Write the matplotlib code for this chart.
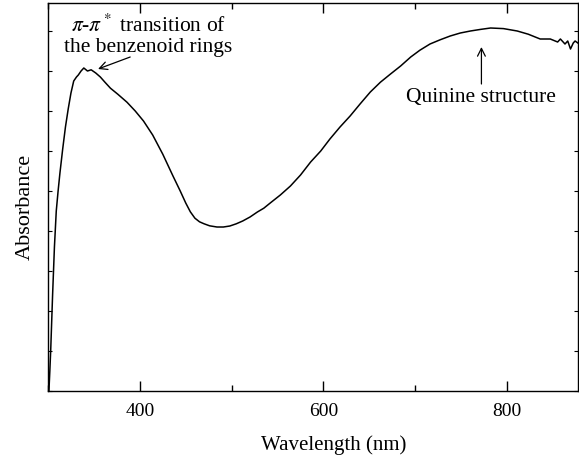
import numpy as np
import matplotlib.pyplot as plt
from matplotlib.ticker import MultipleLocator, NullFormatter

# UV-vis spectrum (arbitrary absorbance units)
wavelength = [300, 301, 302, 303, 305, 307, 309, 311, 313, 316, 319, 322,
              325, 328, 331, 333, 336, 339, 343, 347, 352, 357, 362, 368,
              376, 386, 395, 404, 414, 425, 436, 444, 450, 455, 460, 465,
              470, 476, 484, 491, 498, 505, 512, 520, 528, 535, 542, 553,
              564, 575, 586, 597, 607, 618, 629, 640, 651, 662, 673, 684,
              695, 705, 716, 727, 738, 749, 760, 771, 782, 796, 811, 823,
              836, 847, 855, 858, 863, 866, 869, 872, 874, 877]
absorb = [0.0, 0.0, 0.05, 0.105, 0.24, 0.36, 0.45, 0.50, 0.545, 0.605,
          0.66, 0.705, 0.745, 0.775, 0.785, 0.79, 0.80, 0.8075, 0.80, 0.803,
          0.795, 0.785, 0.772, 0.757, 0.742, 0.722, 0.700, 0.675, 0.640,
          0.592, 0.538, 0.500, 0.470, 0.448, 0.432, 0.423, 0.418, 0.413,
          0.41, 0.41, 0.4125, 0.418, 0.425, 0.435, 0.4475, 0.457, 0.47, 0.49,
          0.5125, 0.54, 0.5725, 0.60, 0.63, 0.66, 0.6875, 0.718, 0.7475,
          0.772, 0.7925, 0.8125, 0.835, 0.852, 0.8675, 0.878, 0.8875, 0.895,
          0.90, 0.904, 0.9075, 0.906, 0.90, 0.892, 0.88, 0.88, 0.8725, 0.88,
          0.8675, 0.875, 0.855, 0.87, 0.875, 0.87]

plt.rcParams['font.family'] = ['Liberation Serif', 'DejaVu Serif']
plt.rcParams['mathtext.fontset'] = 'stix'

fig = plt.figure(figsize=(5.79, 4.6), dpi=100)
ax = fig.add_axes([0.0829, 0.1478, 0.9151, 0.8435])

ax.plot(wavelength, absorb, color='black', lw=1.1)

ax.set_xlim(300, 877)
ax.set_ylim(0, 0.97)
ax.xaxis.set_major_locator(MultipleLocator(200))
ax.xaxis.set_minor_locator(MultipleLocator(100))
ax.yaxis.set_major_locator(MultipleLocator(0.1))
ax.yaxis.set_major_formatter(NullFormatter())
ax.tick_params(axis='x', which='major', direction='in', length=7, width=1,
               top=True, labelsize=14, pad=8)
ax.tick_params(axis='x', which='minor', direction='in', length=4, width=1, top=True)
ax.tick_params(axis='y', which='major', direction='in', length=3, width=0.8, right=True)
for s in ax.spines.values():
    s.set_linewidth(1.0)

ax.set_xlabel('Wavelength (nm)', fontsize=15, va='top')
ax.xaxis.set_label_coords(0.54, -0.112)
ax.set_ylabel('Absorbance', fontsize=16)
ax.yaxis.set_label_coords(-0.025, 0.477)

arrow = dict(arrowstyle='->', color='black', lw=0.9, shrinkA=0, shrinkB=0,
             mutation_scale=14)
ax.text(409, 0.891, '$\\pi$-$\\pi^*$ transition of\nthe benzenoid rings',
        ha='center', va='center', fontsize=15.5, linespacing=1.05)
ax.annotate('', xy=(354.5, 0.805), xytext=(389.5, 0.835), arrowprops=arrow)

ax.annotate('', xy=(772, 0.86), xytext=(772, 0.7675), arrowprops=arrow)
ax.text(771, 0.7375, 'Quinine structure', ha='center', va='center', fontsize=15.5)

fig.savefig('out.png', dpi=100)
